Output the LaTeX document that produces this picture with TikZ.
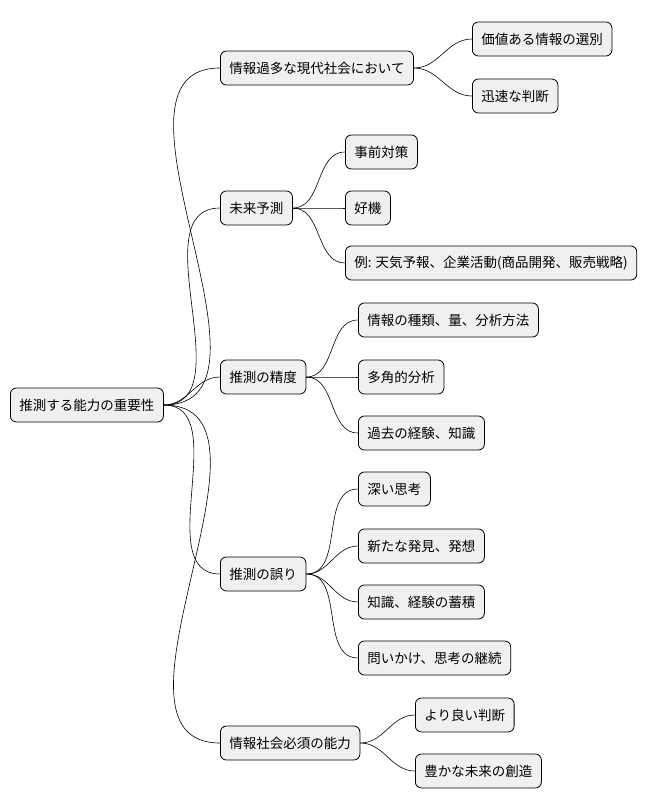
\documentclass[tikz,border=0pt]{standalone}
\usepackage{fontspec}
\setmainfont{Noto Sans CJK JP}
\begin{document}
\begin{tikzpicture}[x=1pt,y=-1pt,
  box/.style={draw=black,fill=black!6,rounded corners=6pt,minimum height=34pt,inner xsep=9pt,anchor=west,font=\fontsize{13.5}{15}\selectfont,line width=0.8pt},
  con/.style={line width=0.6pt}]
\useasboundingbox (0,0) rectangle (663,809);
\node[box] (r) at (10,405) {推測する能力の重要性};
\node[box] (a) at (220,68) {情報過多な現代社会において};
\node[box] (b) at (220,208) {未来予測};
\node[box] (c) at (220,377) {推測の精度};
\node[box] (d) at (220,574) {推測の誤り};
\node[box] (e) at (220,743) {情報社会必須の能力};
\node[box] (a1) at (472,39) {価値ある情報の選別};
\node[box] (a2) at (472,96) {迅速な判断};
\node[box] (b1) at (345,152) {事前対策};
\node[box] (b2) at (345,208) {好機};
\node[box] (b3) at (345,263) {例: 天気予報、企業活動(商品開発、販売戦略)};
\node[box] (c1) at (358,320) {情報の種類、量、分析方法};
\node[box] (c2) at (358,377) {多角的分析};
\node[box] (c3) at (358,433) {過去の経験、知識};
\node[box] (d1) at (358,489) {深い思考};
\node[box] (d2) at (358,546) {新たな発見、発想};
\node[box] (d3) at (358,602) {知識、経験の蓄積};
\node[box] (d4) at (358,658) {問いかけ、思考の継続};
\node[box] (e1) at (415,715) {より良い判断};
\node[box] (e2) at (415,771) {豊かな未来の創造};
\foreach \p/\c in {r/a,r/b,r/c,r/d,r/e,a/a1,a/a2,b/b1,b/b2,b/b3,c/c1,c/c2,c/c3,d/d1,d/d2,d/d3,d/d4,e/e1,e/e2}
  \draw[con] (\p.east) to[out=0,in=180] (\c.west);
\end{tikzpicture}
\end{document}
